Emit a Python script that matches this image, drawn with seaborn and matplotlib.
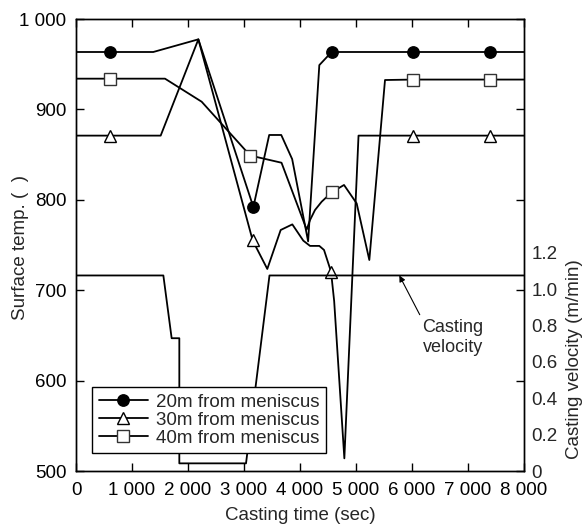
import matplotlib
matplotlib.use("Agg")
import matplotlib.pyplot as plt
from matplotlib.lines import Line2D
from matplotlib.ticker import FuncFormatter
import seaborn as sns

# ---- data ----
t20 = [0, 600, 1380, 2185, 3167, 3450, 3665, 3860, 4145, 4345, 4565, 6020, 7390, 8000]
T20 = [963.5, 963.5, 963.5, 977.5, 792, 871.7, 871.7, 845, 754, 949, 963.5, 963.5, 963.5, 963.5]
m20 = [1, 4, 10, 11, 12]

t30 = [0, 600, 1512, 2185, 3155, 3416, 3655, 3863, 4059, 4179, 4345, 4429, 4554, 4610, 4792, 5045, 6020, 7390, 8000]
T30 = [871, 871, 871, 977.5, 755, 723.5, 766.6, 772.8, 754.8, 749, 749, 744.5, 720.5, 688, 514, 871, 871, 871, 871]
m30 = [1, 4, 12, 16, 17]

t40 = [0, 600, 1589, 2244, 3110, 3670, 4119, 4179, 4268, 4387, 4566, 4786, 5012, 5238, 5518, 6020, 7390, 8000]
T40 = [934, 934, 934, 908.5, 849, 841, 767, 777.6, 788.7, 797.9, 808.3, 816.4, 796, 733.4, 932.5, 933, 933, 933]
m40 = [1, 4, 10, 15, 16]

tv = [0, 1560, 1708, 1845, 1845, 3036, 3455, 8000]
vel = [1.075, 1.075, 0.73, 0.73, 0.042, 0.042, 1.075, 1.075]

labels = ["20m from meniscus", "30m from meniscus", "40m from meniscus"]
xticks = [0, 1000, 2000, 3000, 4000, 5000, 6000, 7000, 8000]
yticks = [500, 600, 700, 800, 900, 1000]
vticks = [0, 0.2, 0.4, 0.6, 0.8, 1.0, 1.2]
vticklabels = ["0", "0.2", "0.4", "0.6", "0.8", "1.0", "1.2"]

sns.set_style("ticks")
plt.rcParams["font.family"] = ["Liberation Sans", "DejaVu Sans"]

FS = 13.5
fig = plt.figure(figsize=(5.87, 5.27), dpi=100)
ax = fig.add_axes([76 / 587, 1 - 471 / 527, 448 / 587, 452 / 527])

lw = 1.3
sns.lineplot(x=t20, y=T20, ax=ax, color="k", lw=lw, estimator=None, sort=False,
             marker="o", markevery=m20, ms=8.2, mfc="k", mec="k", mew=1.0)
sns.lineplot(x=t30, y=T30, ax=ax, color="k", lw=lw, estimator=None, sort=False,
             marker="^", markevery=m30, ms=8.5, mfc="white", mec="k", mew=1.0)
sns.lineplot(x=t40, y=T40, ax=ax, color="k", lw=lw, estimator=None, sort=False,
             marker="s", markevery=m40, ms=8.8, mfc="white", mec="#333333", mew=1.0)

ax.set_xlim(0, 8000)
ax.set_ylim(500, 1000)
ax.set_xticks(xticks)
ax.set_yticks(yticks)
fmt = FuncFormatter(lambda v, p: f"{int(v):,}".replace(",", " "))
ax.xaxis.set_major_formatter(fmt)
ax.yaxis.set_major_formatter(fmt)

ax2 = ax.twinx()
sns.lineplot(x=tv, y=vel, ax=ax2, color="k", lw=lw, estimator=None, sort=False)
ax2.set_ylim(0.022, 2.485)
ax2.set_yticks(vticks)
ax2.set_yticklabels(vticklabels)
ax2.tick_params(axis="y", length=0, pad=5.5, labelsize=FS)
ax2.set_ylabel("Casting velocity (m/min)", fontsize=FS)
ax2.yaxis.set_label_coords(1.093, 0.248)

ax.tick_params(axis="both", direction="in", top=True, right=True, left=True, bottom=True,
               length=5.5, width=1, labelsize=FS, colors="k")
ax.tick_params(axis="x", pad=8)
ax.tick_params(axis="y", pad=7, labelright=False)
ax.set_xlabel("Casting time (sec)", fontsize=FS)
ax.xaxis.set_label_coords(0.5, -0.080)
ax.set_ylabel("Surface temp. (  )", fontsize=FS)
ax.yaxis.set_label_coords(-0.105, 0.494)

for a in (ax, ax2):
    for s in a.spines.values():
        s.set_color("k")
        s.set_linewidth(1.0)

ax2.annotate("Casting\nvelocity", xy=(5774, 1.075), xycoords="data",
             xytext=(6726, 0.022 + (644.5 - 500) / 203), textcoords="data",
             ha="center", va="center", fontsize=13, linespacing=1.2,
             arrowprops=dict(arrowstyle="-|>", color="k", lw=0.8, mutation_scale=9,
                             shrinkA=1, shrinkB=0, relpos=(0.0, 1.0)))

handles = [
    Line2D([], [], color="k", lw=lw, marker="o", ms=8.2, mfc="k", mec="k"),
    Line2D([], [], color="k", lw=lw, marker="^", ms=8.5, mfc="white", mec="k"),
    Line2D([], [], color="k", lw=lw, marker="s", ms=8.8, mfc="white", mec="#333333"),
]
leg = ax2.legend(handles, labels, loc="lower left", bbox_to_anchor=(0.0368, 0.039),
                 fontsize=FS, frameon=True, fancybox=False, framealpha=1,
                 edgecolor="k", handlelength=2.6, handletextpad=0.45,
                 labelspacing=0.05, borderpad=0.35, borderaxespad=0)
leg.get_frame().set_linewidth(1.0)

fig.savefig("out.png", dpi=100)
